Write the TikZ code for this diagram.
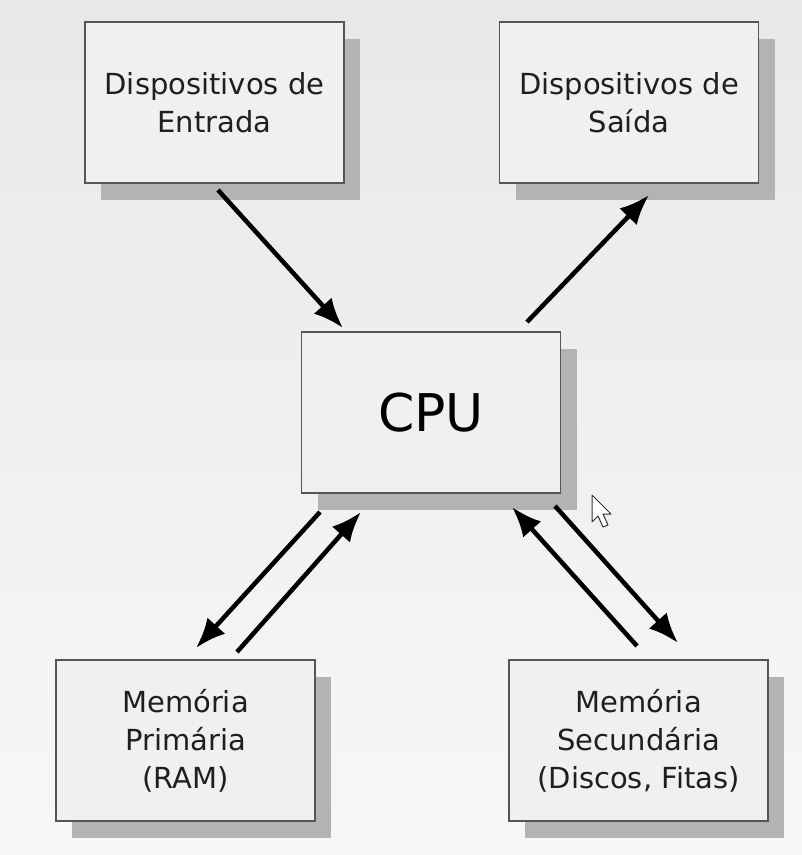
\documentclass[tikz,border=0pt]{standalone}
\usepackage{fontspec}
\setmainfont{DejaVu Sans}
\usetikzlibrary{arrows.meta,shadows}
\definecolor{boxfill}{HTML}{F0F0F0}
\definecolor{boxline}{HTML}{555555}
\definecolor{shadowc}{HTML}{B3B3B3}
\tikzset{
  unitbox/.style={draw=boxline, line width=1.3pt, fill=boxfill, minimum width=259pt, minimum height=161pt,
    inner sep=0pt, align=center, font=\fontsize{29}{38}\selectfont, text=black!88,
    general shadow={fill=shadowc, shadow xshift=16pt, shadow yshift=-17pt}},
  flow/.style={line width=4.5pt, -{Latex[length=30pt,width=24pt]}, black}
}
\begin{document}
\begin{tikzpicture}[x=1pt,y=-1pt]
\useasboundingbox (0,0) rectangle (802,855);
\shade[top color=black!9, bottom color=black!3] (0,0) rectangle (802,855);

\node[unitbox] (in)  at (214.5,102.5) {Dispositivos de\\Entrada};
\node[unitbox] (out) at (629,102.5) {Dispositivos de\\Saída};
\node[unitbox, font=\fontsize{52}{60}\selectfont, text=black] (cpu) at (431,412.5) {CPU};
\node[unitbox] (ram) at (185.5,740.5) {Memória\\Primária\\(RAM)};
\node[unitbox] (sec) at (638.5,740.5) {Memória\\Secundária\\(Discos, Fitas)};

\coordinate (a1) at (218,190);  \coordinate (a2) at (343,328);
\coordinate (b1) at (527,322);  \coordinate (b2) at (649,195);
\coordinate (c1) at (320,512);  \coordinate (c2) at (196,648);
\coordinate (d1) at (237,652);  \coordinate (d2) at (361,512);
\coordinate (e1) at (637,646);  \coordinate (e2) at (512,507);
\coordinate (f1) at (555,506);  \coordinate (f2) at (678,643);

\draw[flow] (a1) -- (a2);
\draw[flow] (b1) -- (b2);
\draw[flow] (c1) -- (c2);
\draw[flow] (d1) -- (d2);
\draw[flow] (e1) -- (e2);
\draw[flow] (f1) -- (f2);

% mouse pointer
\draw[fill=white, draw=black!80, line width=1pt, line join=round]
  (592,495) -- (592,522) -- (598,516) -- (603,527) -- (608,525) -- (603,514) -- (611,514) -- cycle;
\end{tikzpicture}
\end{document}
